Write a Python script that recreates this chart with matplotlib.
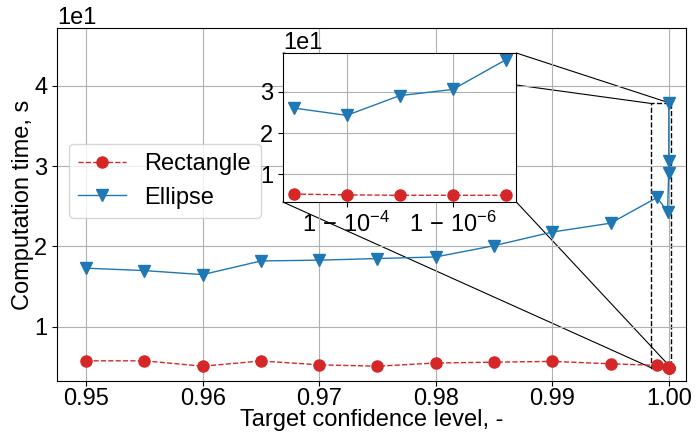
import matplotlib
matplotlib.use("Agg")
import matplotlib.pyplot as plt
from matplotlib.patches import Rectangle, ConnectionPatch
from matplotlib.ticker import NullLocator

plt.rcParams['font.family'] = ['Liberation Sans', 'DejaVu Sans']
plt.rcParams['font.size'] = 17
plt.rcParams['mathtext.fontset'] = 'custom'
plt.rcParams['mathtext.rm'] = 'Liberation Sans'
plt.rcParams['mathtext.it'] = 'Liberation Sans:italic'
plt.rcParams['mathtext.bf'] = 'Liberation Sans:bold'

# target confidence levels
confidence = [0.95, 0.955, 0.96, 0.965, 0.97, 0.975, 0.98, 0.985, 0.99, 0.995,
              0.999, 0.9999, 0.99999, 0.999999, 0.9999999]
# computation times in seconds
rectangle_time = [5.77, 5.77, 5.1, 5.75, 5.27, 5.1, 5.5, 5.6, 5.7, 5.4,
                  5.2, 5.0, 4.9, 4.9, 4.9]
ellipse_time = [17.3, 17.0, 16.5, 18.2, 18.3, 18.5, 18.7, 20.1, 21.8, 22.9,
                26.1, 24.3, 29.1, 30.6, 37.8]
n_zoom = 5  # last points shown in the inset

red = '#d62728'
blue = '#1f77b4'

fig, ax = plt.subplots(figsize=(6.96, 4.37), dpi=100)
fig.subplots_adjust(left=0.082, right=0.986, top=0.936, bottom=0.128)

ax.plot(confidence, rectangle_time, '--o', color=red, lw=1, ms=8, label='Rectangle')
ax.plot(confidence, ellipse_time, '-v', color=blue, lw=1, ms=8, label='Ellipse')
ax.set_xlim(0.9475, 1.0015)
ax.set_ylim(3.25, 47.2)
ax.ticklabel_format(axis='y', style='sci', scilimits=(0, 0))
ax.tick_params(axis='x', pad=1.5)
ax.grid(True)
ax.set_xlabel('Target confidence level, -', labelpad=-1)
ax.set_ylabel('Computation time, s', labelpad=0)
ax.legend(loc='center left', bbox_to_anchor=(0, 0.567))

# inset with logit x axis
axins = ax.inset_axes([0.359, 0.507, 0.371, 0.422])
axins.plot(confidence[-n_zoom:], rectangle_time[-n_zoom:], '--o', color=red, lw=1, ms=8)
axins.plot(confidence[-n_zoom:], ellipse_time[-n_zoom:], '-v', color=blue, lw=1, ms=8)
axins.set_xscale('logit')
axins.set_xticks([1 - 1e-4, 1 - 1e-6], [r'$1\,-\,10^{-4}$', r'$1\,-\,10^{-6}$'])
axins.xaxis.set_minor_locator(NullLocator())
axins.ticklabel_format(axis='y', style='sci', scilimits=(0, 0))
axins.grid(True)

# zoom marker on the main axes
zy = rectangle_time[-n_zoom:] + ellipse_time[-n_zoom:]
x0, x1 = 0.9985, 1.0002
y0, y1 = min(zy), max(zy)
ax.add_patch(Rectangle((x0, y0), x1 - x0, y1 - y0, fill=False, ec='k', ls='--', lw=1))
for corner_ins, corner_main in [((0, 0), (x0, y0)), ((1, 0), (x1, y0)),
                                ((0, 1), (x0, y1)), ((1, 1), (x1, y1))]:
    con = ConnectionPatch(xyA=corner_ins, coordsA=axins.transAxes,
                          xyB=corner_main, coordsB=ax.transData,
                          color='k', lw=0.8)
    ax.add_artist(con)

fig.savefig('out.png', dpi=100)
